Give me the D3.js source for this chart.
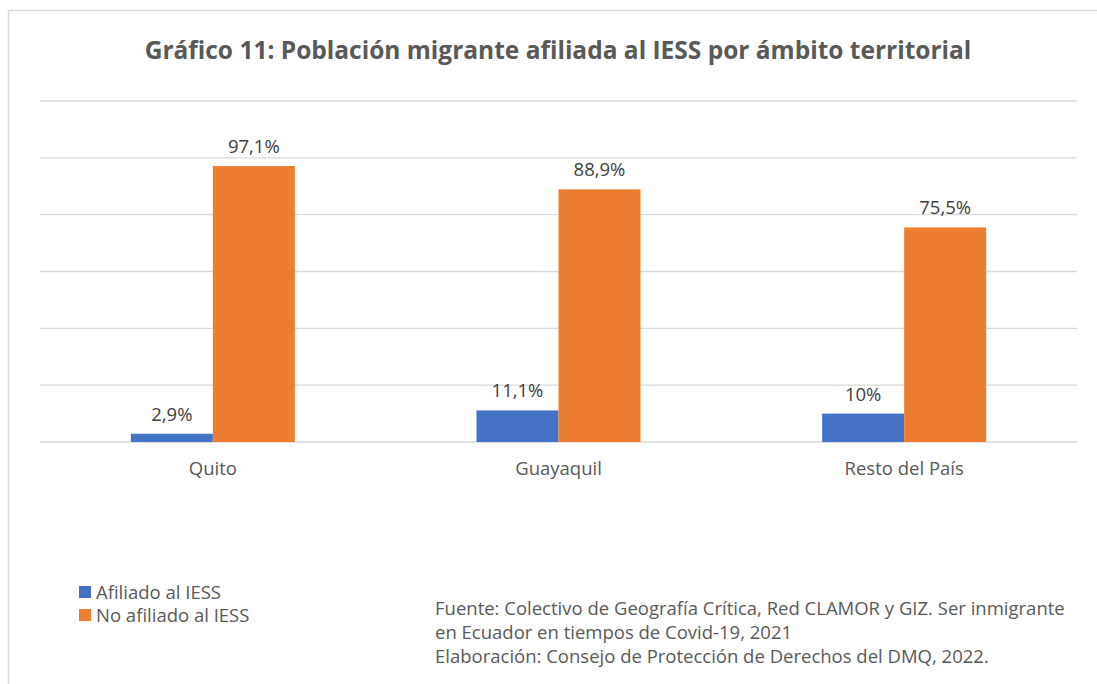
<!DOCTYPE html>
<html>
<head>
<meta charset="utf-8">
<script src="https://cdn.jsdelivr.net/npm/d3@7"></script>
<style>
body { margin: 0; background: #fff; }
svg { display: block; font-family: "Open Sans", Lato, sans-serif; }
</style>
</head>
<body>
<div class="chartfield"></div>
<script>
var width = 1097;
var height = 684;
var categories = ["Quito", "Guayaquil", "Resto del País"];
var seriesNames = ["Afiliado al IESS", "No afiliado al IESS"];
var afiliado = [2.9, 11.1, 10];
var noAfiliado = [97.1, 88.9, 75.5];
var afiliadoLabels = ["2,9%", "11,1%", "10%"];
var noAfiliadoLabels = ["97,1%", "88,9%", "75,5%"];
var yTicks = [0, 20, 40, 60, 80, 100, 120];
var colors = ["#4472c4", "#ed7d31"];
var sourceLines = [
	"Fuente: Colectivo de Geografía Crítica, Red CLAMOR y GIZ. Ser inmigrante",
	"en Ecuador en tiempos de Covid-19, 2021",
	"Elaboración: Consejo de Protección de Derechos del DMQ, 2022."
];

var svg = d3.select(".chartfield")
	.append("svg")
	.attr("width", width)
	.attr("height", height);

// chart frame
svg.append("rect")
	.attr("x", 8.5).attr("y", 10.5)
	.attr("width", 1100).attr("height", 700)
	.attr("fill", "none")
	.attr("stroke", "#d9d9d9")
	.attr("stroke-width", 1.5);

svg.append("text")
	.attr("x", 558).attr("y", 59)
	.attr("text-anchor", "middle")
	.attr("font-size", 24.5)
	.attr("font-weight", "bold")
	.attr("fill", "#595959")
	.text("Gráfico 11: Población migrante afiliada al IESS por ámbito territorial");

var x0 = d3.scaleBand().domain(categories).range([40, 1077]);
var y = d3.scaleLinear().domain([0, 120]).range([442, 101]);

var grid = svg.append("g");
yTicks.forEach(function(t) {
	grid.append("line")
		.attr("x1", 40).attr("x2", 1077)
		.attr("y1", y(t)).attr("y2", y(t))
		.attr("stroke", "#d9d9d9")
		.attr("stroke-width", 1.3);
});

var barW = 82;
var series = [afiliado, noAfiliado];
var labels = [afiliadoLabels, noAfiliadoLabels];

series.forEach(function(vals, s) {
	svg.append("g").selectAll("rect")
		.data(vals)
		.enter().append("rect")
		.attr("x", function(d, i) { return x0(categories[i]) + x0.bandwidth() / 2 - barW + s * barW; })
		.attr("y", function(d) { return y(d); })
		.attr("width", barW)
		.attr("height", function(d) { return y(0) - y(d); })
		.attr("fill", colors[s]);

	svg.append("g").selectAll("text")
		.data(vals)
		.enter().append("text")
		.attr("x", function(d, i) { return x0(categories[i]) + x0.bandwidth() / 2 - barW / 2 + s * barW; })
		.attr("y", function(d) { return y(d) - 13; })
		.attr("text-anchor", "middle")
		.attr("font-size", 18.5)
		.attr("fill", "#404040")
		.text(function(d, i) { return labels[s][i]; });
});

var xAxis = svg.append("g")
	.attr("transform", "translate(0,442)")
	.call(d3.axisBottom(x0).tickSize(0).tickPadding(20));
xAxis.select(".domain").remove();
xAxis.selectAll("text")
	.attr("font-family", "'Open Sans', Lato, sans-serif")
	.attr("font-size", 18.5)
	.attr("fill", "#595959");

var legend = svg.append("g");
seriesNames.forEach(function(n, i) {
	legend.append("rect")
		.attr("x", 79).attr("y", 586 + i * 23)
		.attr("width", 12).attr("height", 12)
		.attr("fill", colors[i]);
	legend.append("text")
		.attr("x", 96).attr("y", 598.5 + i * 23)
		.attr("font-size", 18.5)
		.attr("fill", "#595959")
		.text(n);
});

svg.append("g").selectAll("text")
	.data(sourceLines)
	.enter().append("text")
	.attr("x", 435)
	.attr("y", function(d, i) { return 614.5 + i * 24; })
	.attr("font-size", 18.5)
	.attr("fill", "#595959")
	.text(function(d) { return d; });
</script>
</body>
</html>
